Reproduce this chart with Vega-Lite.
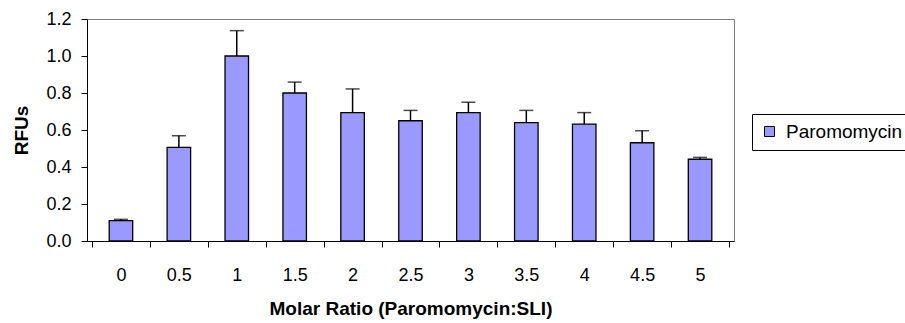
{
  "$schema": "https://vega.github.io/schema/vega-lite/v6.json",
  "width": 647,
  "height": 222,
  "autosize": {"type": "none"},
  "padding": {"left": 87, "top": 19, "right": 171, "bottom": 82},
  "background": "white",
  "config": {
    "font": "Liberation Sans",
    "view": {"stroke": "#808080", "strokeWidth": 1},
    "axis": {"grid": false, "domainColor": "black", "tickColor": "black", "labelColor": "black", "titleColor": "black", "labelFont": "Liberation Sans", "titleFont": "Liberation Sans", "labelOverlap": false, "labelFlush": false},
    "axisY": {"labelOverlap": false, "labelFlush": false}
  },
  "data": {
    "values": [
      {"ratio": 0, "rfu": 0.11, "upper": 0.117, "series": "Paromomycin"},
      {"ratio": 0.5, "rfu": 0.506, "upper": 0.569, "series": "Paromomycin"},
      {"ratio": 1, "rfu": 1.0, "upper": 1.137, "series": "Paromomycin"},
      {"ratio": 1.5, "rfu": 0.80, "upper": 0.859, "series": "Paromomycin"},
      {"ratio": 2, "rfu": 0.694, "upper": 0.822, "series": "Paromomycin"},
      {"ratio": 2.5, "rfu": 0.65, "upper": 0.706, "series": "Paromomycin"},
      {"ratio": 3, "rfu": 0.694, "upper": 0.75, "series": "Paromomycin"},
      {"ratio": 3.5, "rfu": 0.64, "upper": 0.706, "series": "Paromomycin"},
      {"ratio": 4, "rfu": 0.632, "upper": 0.694, "series": "Paromomycin"},
      {"ratio": 4.5, "rfu": 0.531, "upper": 0.596, "series": "Paromomycin"},
      {"ratio": 5, "rfu": 0.442, "upper": 0.452, "series": "Paromomycin"}
    ]
  },
  "encoding": {
    "x": {
      "field": "ratio",
      "type": "quantitative",
      "scale": {"domain": [-0.25, 5.25], "nice": false, "zero": false},
      "axis": {
        "title": "Molar Ratio (Paromomycin:SLI)",
        "titleFontSize": 19,
        "titleFontWeight": "bold",
        "titlePadding": 15,
        "labelFontSize": 18,
        "labelPadding": 19,
        "tickSize": 6,
        "values": [-0.25, 0, 0.25, 0.5, 0.75, 1, 1.25, 1.5, 1.75, 2, 2.25, 2.5, 2.75, 3, 3.25, 3.5, 3.75, 4, 4.25, 4.5, 4.75, 5, 5.25],
        "labelExpr": "(round(datum.value*4) % 2 == 0) ? toString(datum.value) : ''",
        "tickOpacity": {"condition": {"test": "round(datum.value*4) % 2 != 0", "value": 1}, "value": 0},
        "labelFlush": false,
        "labelOverlap": false
      }
    },
    "y": {
      "field": "rfu",
      "type": "quantitative",
      "scale": {"domain": [0, 1.2], "nice": false},
      "axis": {
        "title": "RFUs",
        "titleFontSize": 19,
        "titleFontWeight": "bold",
        "titlePadding": 14,
        "labelFontSize": 18,
        "labelPadding": 10,
        "labelOverlap": false,
        "labelFlush": false,
        "tickSize": 6,
        "values": [0, 0.2, 0.4, 0.6, 0.8, 1.0, 1.2],
        "format": ".1f"
      }
    }
  },
  "layer": [
    {
      "mark": {"type": "bar", "width": 23.5, "stroke": "black", "strokeWidth": 1.3},
      "encoding": {
        "color": {
          "field": "series",
          "type": "nominal",
          "scale": {"range": ["#9999FF"]},
          "legend": {
            "title": null,
            "orient": "none",
            "legendX": 665,
            "legendY": 95,
            "symbolType": "square",
            "symbolSize": 100,
            "symbolStrokeColor": "black",
            "symbolStrokeWidth": 1,
            "symbolOpacity": 1,
            "labelFontSize": 19,
            "labelFont": "Liberation Sans",
            "labelColor": "black",
            "strokeColor": "black",
            "fillColor": "white",
            "padding": 8,
            "labelOffset": 7
          }
        }
      }
    },
    {
      "mark": {"type": "rule", "color": "black", "strokeWidth": 1.5},
      "encoding": {
        "y2": {"field": "upper"}
      }
    },
    {
      "mark": {"type": "tick", "orient": "horizontal", "color": "black", "size": 14, "thickness": 1.5},
      "encoding": {
        "y": {"field": "upper", "type": "quantitative"}
      }
    }
  ]
}
